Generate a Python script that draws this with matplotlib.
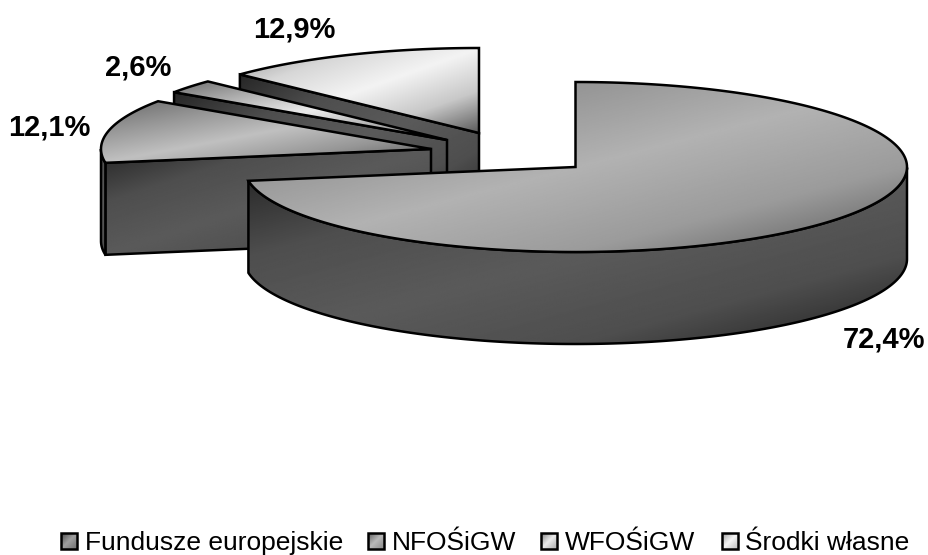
import numpy as np
import matplotlib
matplotlib.use('Agg')
import matplotlib.pyplot as plt
from matplotlib.patches import Polygon

plt.rcParams['font.family'] = ['Liberation Sans', 'DejaVu Sans']

# chart data
labels = ['Fundusze europejskie', 'NFOŚiGW', 'WFOŚiGW', 'Środki własne']
shares = [72.4, 2.6, 12.1, 12.9]
pct_text = ['72,4%', '2,6%', '12,1%', '12,9%']
# slice order going clockwise from 12 o'clock as drawn in the picture
pie_order = [0, 2, 1, 3]

# geometry of the tilted pie, in pixels
radius_x = {0: 331.5, 1: 330, 2: 330, 3: 330}
ry, depth = 85, 92
centers = {0: (575.5, 167), 2: (431, 149), 1: (447, 140), 3: (479, 133)}

# grey levels of the gradients at t = 0, .25, .5, .75, 1
stops = [0, 0.25, 0.5, 0.75, 1]
top_grey = {0: (120, 148, 178, 155, 90),
            2: (105, 150, 192, 150, 90),
            1: (110, 175, 235, 175, 100),
            3: (150, 215, 243, 200, 90)}
side_grey = (38, 78, 90, 78, 32)
legend_grey = {0: (70, 115, 160, 135, 110),
               1: (90, 140, 185, 160, 140),
               2: (120, 180, 235, 200, 170),
               3: (150, 200, 245, 215, 190)}

# label anchors: x centre, baseline
label_pos = {0: (884, 347), 1: (138, 75), 2: (49, 136), 3: (294, 37)}
legend_box_x = [61, 368, 541, 722]
legend_text_x = [85, 392, 565, 745]

fig = plt.figure(figsize=(9.29, 5.55), dpi=100)
ax = fig.add_axes([0, 0, 1, 1])
ax.set_xlim(0, 929)
ax.set_ylim(555, 0)
ax.axis('off')

z = [1]


def shaded_poly(pts, greys, lw=1.8):
    # polygon with a diagonal gradient, clipped from an image
    pts = np.array(pts)
    x0, y0 = pts.min(axis=0)
    x1, y1 = pts.max(axis=0)
    u, v = np.meshgrid(np.linspace(0, 1, 200), np.linspace(0, 1, 200))
    g = np.interp((u + v) / 2, stops, greys)
    im = ax.imshow(g, cmap='gray', vmin=0, vmax=255, extent=(x0, x1, y1, y0),
                   aspect='auto', interpolation='bilinear', zorder=z[0])
    edge = Polygon(pts, closed=True, facecolor='none', edgecolor='black',
                   linewidth=lw, joinstyle='miter', zorder=z[0] + 1)
    ax.add_patch(edge)
    im.set_clip_path(edge)
    z[0] += 2


def rim(idx, deg):
    cx, cy = centers[idx]
    t = np.radians(deg)
    return np.column_stack([cx + radius_x[idx] * np.cos(t), cy - ry * np.sin(t)])


# work out the angle span of each slice from the shares
spans = {}
hi = 90.0
for idx in pie_order:
    lo = hi - shares[idx] * 3.6
    spans[idx] = (lo, hi)
    hi = lo

# back slices first, the big one last
for idx in [3, 1, 2, 0]:
    lo, hi = spans[idx]
    apex = np.array(centers[idx])
    down = np.array([0, depth])

    # cut face, only if it turns to the viewer
    if np.cos(np.radians(hi)) < -1e-6:
        p = rim(idx, [hi])[0]
        shaded_poly([apex, p, p + down, apex + down], side_grey)

    # outer wall
    deg = np.linspace(lo, hi, 500)
    front = rim(idx, deg[np.sin(np.radians(deg)) <= 0])
    if len(front):
        shaded_poly(np.vstack([front, (front + down)[::-1]]), side_grey)

    # top surface
    shaded_poly(np.vstack([apex, rim(idx, deg)]), top_grey[idx])

# percentage labels
for i, txt in enumerate(pct_text):
    ax.text(label_pos[i][0], label_pos[i][1], txt, fontsize=21, fontweight='bold',
            ha='center', va='baseline', color='black', zorder=z[0])

# legend
for i, name in enumerate(labels):
    x = legend_box_x[i]
    shaded_poly([(x, 533), (x + 16, 533), (x + 16, 549), (x, 549)], legend_grey[i], lw=1.8)
    ax.text(legend_text_x[i], 550, name, fontsize=19, ha='left', va='baseline',
            color='black', zorder=z[0])

fig.savefig('out.png', dpi=100)
